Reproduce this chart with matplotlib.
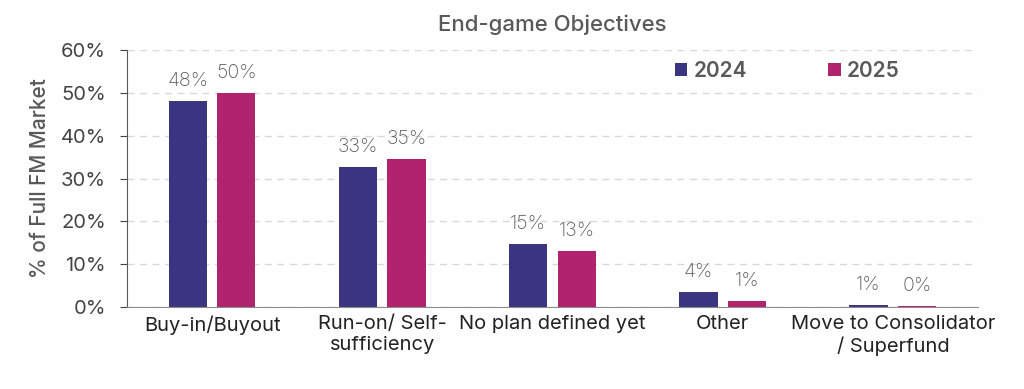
import numpy as np
import matplotlib.pyplot as plt

categories = ['Buy-in/Buyout', 'Run-on/ Self-\nsufficiency', 'No plan defined yet',
              'Other', 'Move to Consolidator\n/ Superfund']
vals_2024 = [48.1, 32.7, 14.7, 3.5, 0.5]
vals_2025 = [50.0, 34.6, 13.1, 1.4, 0.2]
labels_2024 = ['48%', '33%', '15%', '4%', '1%']
labels_2025 = ['50%', '35%', '13%', '1%', '0%']

plt.rcParams['font.family'] = ['Inter', 'DejaVu Sans']
txt = '#595959'

fig = plt.figure(figsize=(10.24, 3.89), dpi=100)
ax = fig.add_axes([0.124, 0.211, 0.831, 0.66])

x = np.arange(len(categories))
w = 0.225
b1 = ax.bar(x - w / 2 - 0.03, vals_2024, w, color='#3b3480', label='2024')
b2 = ax.bar(x + w / 2 + 0.03, vals_2025, w, color='#b0236e', label='2025')

for bars, labs in [(b1, labels_2024), (b2, labels_2025)]:
    for bar, lab in zip(bars, labs):
        ax.annotate(lab, (bar.get_x() + bar.get_width() / 2, bar.get_height()),
                    xytext=(0, 8), textcoords='offset points', ha='center', va='bottom',
                    fontsize=14, color=txt, fontweight='light')

ax.set_xlim(-0.5, len(categories) - 0.5)
ax.set_ylim(0, 60)
ax.set_yticks(range(0, 61, 10))
ax.set_yticklabels([f'{v}%' for v in range(0, 61, 10)])
ax.set_xticks(x)
ax.set_xticklabels(categories)
ax.tick_params(axis='x', length=0, labelsize=14.5, colors='#222222', pad=6)
ax.tick_params(axis='y', labelsize=14.5, colors='#444444', direction='out', length=5, pad=10)
ax.yaxis.grid(True, linestyle=(0, (5, 4)), color='#d9d9d9', linewidth=1)
ax.set_axisbelow(True)
for s in ['top', 'right']:
    ax.spines[s].set_visible(False)
ax.spines['left'].set_color('#595959')
ax.spines['bottom'].set_color('#8c8c8c')

ax.set_ylabel('% of Full FM Market', fontsize=15, color=txt, labelpad=8, fontweight='medium')
ax.set_title('End-game Objectives', fontsize=16, color=txt, fontweight='medium', pad=14)

leg = ax.legend(loc='upper right', bbox_to_anchor=(0.93, 1.03), ncol=2, frameon=False,
                fontsize=15, handlelength=0.6, handleheight=0.6, handletextpad=0.3,
                columnspacing=3.9)
for t in leg.get_texts():
    t.set_color(txt)
    t.set_fontweight('semibold')

fig.savefig('out.png', dpi=100)
